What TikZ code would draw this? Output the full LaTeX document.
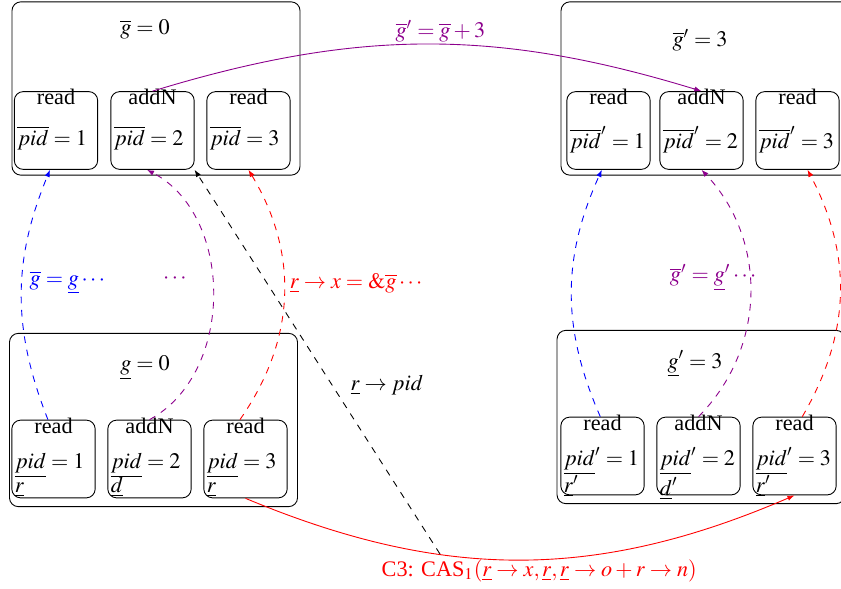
\documentclass[tikz,border=0pt]{standalone}
\usepackage{mathptmx}
\usepackage{fontspec}
\setmainfont{Liberation Serif}
\usetikzlibrary{arrows.meta,positioning,calc}
\definecolor{gviolet}{rgb}{0.55,0,0.55}

\begin{document}
\begin{tikzpicture}[x=0.45pt,y=0.45pt,
  outer/.style={draw,rounded corners=4pt,minimum width=129.6pt,minimum height=78pt},
  inbox/.style={draw,rounded corners=4pt,minimum width=37.5pt,minimum height=35pt},
  optext/.style={anchor=north,inner sep=0pt,yshift=1pt},
  idtext/.style={anchor=north west,inner sep=0pt,align=left,xshift=1.4pt,yshift=2.2pt},
  arr/.style={-{Latex[length=3.2pt,width=2.4pt]}},
  flow/.style={arr,dashed}]
  \useasboundingbox (0,0) rectangle (841,588);
  \node[outer] (tl) at (156,499.5) {};
  \node (tlg) at (145,559) {$\overline{g}=0$};
  \node[inbox,label={[optext]north:read},label={[idtext]west:{$\overline{pid}=1$}}] (tl1) at (56,457.5) {};
  \node[inbox,label={[optext]north:addN},label={[idtext]west:{$\overline{pid}=2$}}] (tl2) at (152.5,457.5) {};
  \node[inbox,label={[optext]north:read},label={[idtext]west:{$\overline{pid}=3$}}] (tl3) at (248.5,457.5) {};
  \node[outer] (tr) at (705,499.5) {};
  \node (trg) at (700,548) {$\overline{g}'=3$};
  \node[inbox,label={[optext]north:read},label={[idtext]west:{$\overline{pid}'=1$}}] (tr1) at (608.5,457.5) {};
  \node[inbox,label={[optext]north:addN},label={[idtext]west:{$\overline{pid}'=2$}}] (tr2) at (701.5,457.5) {};
  \node[inbox,label={[optext]north:read},label={[idtext]west:{$\overline{pid}'=3$}}] (tr3) at (797.5,457.5) {};
  \node[outer] (bl) at (153.5,168) {};
  \node (blg) at (145,220) {$\underline{g}=0$};
  \node[inbox,label={[optext]north:read},label={[idtext,yshift=0.4pt]west:{$\underline{pid}=1$\\[-1.6pt]$\underline{r}$}}] (bl1) at (53.5,129) {};
  \node[inbox,label={[optext]north:addN},label={[idtext,yshift=0.4pt]west:{$\underline{pid}=2$\\[-1.6pt]$\underline{d}$}}] (bl2) at (149.5,129) {};
  \node[inbox,label={[optext]north:read},label={[idtext,yshift=0.4pt]west:{$\underline{pid}=3$\\[-1.6pt]$\underline{r}$}}] (bl3) at (245.5,129) {};
  \node[outer] (br) at (701,171) {};
  \node (brg) at (695,224) {$\underline{g}'=3$};
  \node[inbox,label={[optext]north:read},label={[idtext,yshift=1.6pt]west:{$\underline{pid}'=1$\\$\underline{r}'$}}] (br1) at (602.5,132) {};
  \node[inbox,label={[optext]north:addN},label={[idtext,yshift=1.6pt]west:{$\underline{pid}'=2$\\$\underline{d}'$}}] (br2) at (698.5,132) {};
  \node[inbox,label={[optext]north:read},label={[idtext,yshift=1.6pt]west:{$\underline{pid}'=3$\\$\underline{r}'$}}] (br3) at (794.5,132) {};
  \draw[arr,gviolet] (tl2.north) to[bend left=17] node[above=-2.5pt,xshift=6pt] (gup) {$\overline{g}'=\overline{g}+3$} (tr2.north);
  \draw[arr,red] (bl3.south) to[bend right=23] node[below=-3.6pt,xshift=8.5pt] (c3) {C3: CAS$_1(\underline{r}\to x,\underline{r},\underline{r}\to o+r\to n)$} (br3.south);
  \draw[flow] ([yshift=-1pt]$(c3.north west)!0.2!(c3.north east)$) -- node[pos=0.44,right=4.8pt] (rp) {$\underline{r}\to pid$} (tl2.south east);
  \draw[flow,blue] ([xshift=-2.5pt]bl1.north) to[bend left=22] node[pos=0.55,right] (lb) {$\overline{g}=\underline{g}\cdots$} ([xshift=-2.7pt]tl1.south);
  \draw[flow,gviolet] (bl2.north) to[bend right=62] node[pos=0.55,left=8pt] (lv) {$\cdots$} ([xshift=-2.5pt]tl2.south);
  \draw[flow,red] ([xshift=-2.5pt]bl3.north) to[bend right=33] node[pos=0.55,right=-1pt] (lr) {$\underline{r}\to x=\&\overline{g}\cdots$} (tl3.south);
  \draw[flow,blue] ([xshift=-1pt]br1.north) to[bend left=24] ([xshift=-3pt]tr1.south);
  \draw[flow,gviolet] (br2.north) to[bend right=44] node[pos=0.56,left=-6.5pt] (lv2) {$\overline{g}'=\underline{g}'\cdots$} (tr2.south);
  \draw[flow,red] ([xshift=3.5pt]br3.north) to[bend right=29] ([xshift=4.5pt]tr3.south);
\end{tikzpicture}
\end{document}
